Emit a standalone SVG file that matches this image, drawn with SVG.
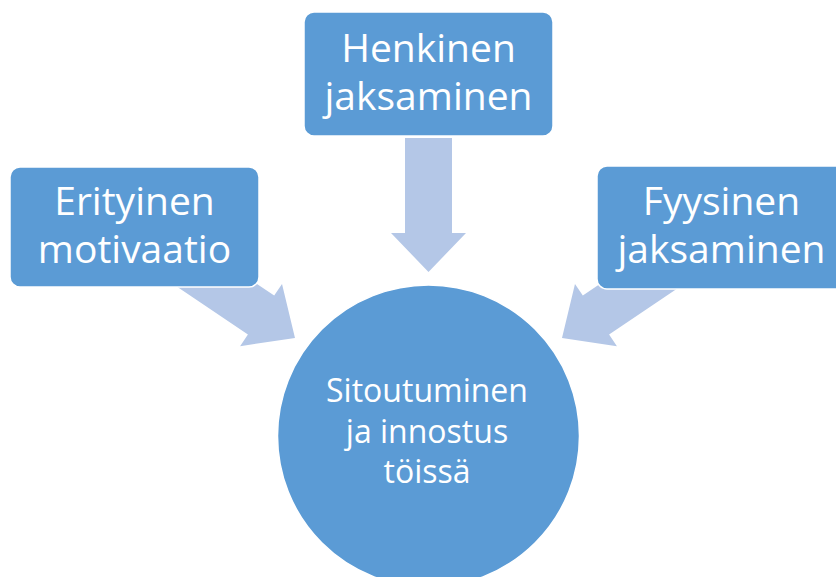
<svg xmlns="http://www.w3.org/2000/svg" width="836" height="577" viewBox="0 0 836 577">
<defs>
<style>
.node{fill:#5B9BD5;stroke:#FFFFFF;stroke-width:1.5}
.arrow{fill:#B4C7E7}
.lbl{font-family:"Open Sans","Noto Sans","DejaVu Sans",sans-serif;fill:#FFFFFF;text-anchor:middle}
.big{font-size:39px}
.small{font-size:32px}
</style>
<polygon id="blk" points="-134,-23.5 -39,-23.5 -39,-37.5 0,0 -39,37.5 -39,23.5 -134,23.5"/>
</defs>
<rect width="836" height="577" fill="#FFFFFF"/>
<g id="connectors">
<use href="#blk" class="arrow" transform="translate(428.5,272) rotate(90)"/>
<use href="#blk" class="arrow" transform="translate(295,338) rotate(34) scale(1.05,1)"/>
<use href="#blk" class="arrow" transform="translate(562,338) rotate(146) scale(1.05,1)"/>
</g>
<g id="node-center">
<circle class="node" cx="428.5" cy="436" r="151"/>
<text class="lbl small" x="427" y="402">Sitoutuminen</text>
<text class="lbl small" x="427" y="443">ja innostus</text>
<text class="lbl small" x="427" y="483">töissä</text>
</g>
<g id="node-henkinen">
<rect class="node" x="304" y="12" width="249" height="124" rx="10"/>
<text class="lbl big" x="428.5" y="62">Henkinen</text>
<text class="lbl big" x="428.5" y="110">jaksaminen</text>
</g>
<g id="node-erityinen">
<rect class="node" x="10" y="167" width="249" height="120" rx="10"/>
<text class="lbl big" x="134.5" y="215">Erityinen</text>
<text class="lbl big" x="134.5" y="263">motivaatio</text>
</g>
<g id="node-fyysinen">
<rect class="node" x="597" y="166" width="249" height="123" rx="10"/>
<text class="lbl big" x="721.5" y="215">Fyysinen</text>
<text class="lbl big" x="721.5" y="263">jaksaminen</text>
</g>
</svg>
